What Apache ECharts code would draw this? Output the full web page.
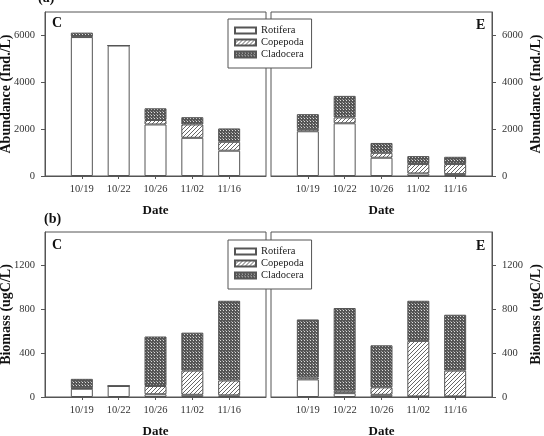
<!DOCTYPE html>
<html>
<head>
<meta charset="utf-8">
<script src="https://cdn.jsdelivr.net/npm/echarts@6/dist/echarts.min.js"></script>
<style>
html, body { margin: 0; padding: 0; background: #fff; }
#main { width: 544px; height: 436px; }
</style>
</head>
<body>
<div id="main"></div>
<script>
var dates = ['10/19', '10/22', '10/26', '11/02', '11/16'];
var groups = ['Rotifera', 'Copepoda', 'Cladocera'];

// (a) abundance, Ind./L
var abunC_rot = [5930, 5570, 2200, 1630, 1080];
var abunC_cop = [20, 0, 190, 570, 380];
var abunC_cla = [170, 0, 500, 310, 570];
var abunE_rot = [1910, 2250, 780, 110, 80];
var abunE_cop = [100, 250, 210, 400, 430];
var abunE_cla = [630, 920, 420, 340, 310];

// (b) biomass, ugC/L
var bioC_rot = [75, 100, 25, 20, 15];
var bioC_cop = [5, 0, 75, 220, 135];
var bioC_cla = [85, 0, 450, 345, 725];
var bioE_rot = [160, 35, 20, 5, 5];
var bioE_cop = [18, 22, 68, 505, 235];
var bioE_cla = [527, 752, 382, 365, 508];

var FONT = '"Liberation Serif", "DejaVu Serif", serif';
var LINE = '#555';

function hatch() {
    var c = document.createElement('canvas');
    c.width = c.height = 4;
    var g = c.getContext('2d');
    g.fillStyle = '#fff';
    g.fillRect(0, 0, 4, 4);
    g.strokeStyle = '#666';
    g.lineWidth = 1;
    g.beginPath();
    g.moveTo(0, 4); g.lineTo(4, 0);
    g.moveTo(-1, 1); g.lineTo(1, -1);
    g.moveTo(3, 5); g.lineTo(5, 3);
    g.stroke();
    return c;
}
function cross() {
    var c = document.createElement('canvas');
    c.width = c.height = 3;
    var g = c.getContext('2d');
    g.fillStyle = '#555';
    g.fillRect(0, 0, 3, 3);
    // light dots in a dark crosshatch
    g.fillStyle = '#ddd';
    g.fillRect(1, 1, 1, 1);
    g.fillStyle = '#999';
    g.fillRect(0, 0, 1, 1);
    return c;
}
var fills = ['#fff', { image: hatch(), repeat: 'repeat' }, { image: cross(), repeat: 'repeat' }];

var cats = [''].concat(dates, ['']);

var grids = [
    { left: 45, top: 12, width: 221, height: 164 },
    { left: 271, top: 12, width: 221, height: 164 },
    { left: 45, top: 232, width: 221, height: 165 },
    { left: 271, top: 232, width: 221, height: 165 }
];
grids.forEach(function (g) {
    g.show = true;
    g.borderColor = LINE;
    g.borderWidth = 1;
    g.backgroundColor = 'transparent';
    g.containLabel = false;
    g.outerBoundsMode = 'none';
});

function xAx(i) {
    return {
        type: 'category', gridIndex: i, data: cats, boundaryGap: false,
        name: 'Date', nameLocation: 'middle', nameGap: 28,
        nameTextStyle: { fontFamily: FONT, fontSize: 13, fontWeight: 'bold', color: '#111' },
        axisLine: { lineStyle: { color: LINE, width: 1 } },
        axisTick: { show: true, length: 3, lineStyle: { color: LINE },
            interval: function (idx) { return idx > 0 && idx < cats.length - 1; } },
        axisLabel: { interval: 0, margin: 8, fontFamily: FONT, fontSize: 10.5, color: '#333' },
        splitLine: { show: false }
    };
}
function yAx(i, pos, max, step, title) {
    return {
        type: 'value', gridIndex: i, position: pos, min: 0, max: max, interval: step,
        name: title, nameLocation: 'middle', nameRotate: 90,
        nameGap: pos === 'left' ? 32 : 37,
        nameMoveOverlap: false,
        nameTextStyle: { fontFamily: FONT, fontSize: 14, fontWeight: 'bold', color: '#111' },
        axisLine: { show: true, lineStyle: { color: LINE, width: 1 } },
        axisTick: { show: true, length: 4, lineStyle: { color: LINE } },
        axisLabel: { showMaxLabel: false, margin: 10, fontFamily: FONT, fontSize: 10.5, color: '#333',
            formatter: function (v) { return String(v); } },
        splitLine: { show: false }
    };
}

var series = [];
function addPanel(i, rot, cop, cla) {
    [rot, cop, cla].forEach(function (vals, k) {
        series.push({
            name: groups[k], type: 'bar', xAxisIndex: i, yAxisIndex: i,
            stack: 'p' + i, barWidth: 22,
            itemStyle: { color: fills[k], borderColor: LINE, borderWidth: 1 },
            emphasis: { disabled: true },
            data: vals.map(function (v, j) { return [j + 1, v]; })
        });
    });
}
addPanel(0, abunC_rot, abunC_cop, abunC_cla);
addPanel(1, abunE_rot, abunE_cop, abunE_cla);
addPanel(2, bioC_rot, bioC_cop, bioC_cla);
addPanel(3, bioE_rot, bioE_cop, bioE_cla);

function legendAt(top) {
    return {
        left: 228, top: top, orient: 'vertical',
        icon: 'rect',
        itemWidth: 21, itemHeight: 6, itemGap: 1,
        padding: [6, 8, 8, 6],
        backgroundColor: '#fff', borderColor: LINE, borderWidth: 1,
        textStyle: { fontFamily: FONT, fontSize: 10.5, lineHeight: 11, color: '#222' },
        selectedMode: false,
        data: groups
    };
}

function label(txt, x, y) {
    return { type: 'text', left: x, top: y, z: 10,
        style: { text: txt, font: 'bold 14px ' + FONT, fill: '#111' } };
}

var chart = echarts.init(document.getElementById('main'));
chart.setOption({
    backgroundColor: '#fff',
    animation: false,
    grid: grids,
    xAxis: [xAx(0), xAx(1), xAx(2), xAx(3)],
    yAxis: [
        yAx(0, 'left', 7000, 2000, 'Abundance (Ind./L)'),
        yAx(1, 'right', 7000, 2000, 'Abundance (Ind./L)'),
        yAx(2, 'left', 1500, 400, 'Biomass (ugC/L)'),
        yAx(3, 'right', 1500, 400, 'Biomass (ugC/L)')
    ],
    legend: [legendAt(19), legendAt(240)],
    graphic: [
        label('(a)', 38, -9),
        label('(b)', 44, 212),
        label('C', 52, 16),
        label('E', 476, 18),
        label('C', 52, 238),
        label('E', 476, 239)
    ],
    series: series
});
</script>
</body>
</html>
